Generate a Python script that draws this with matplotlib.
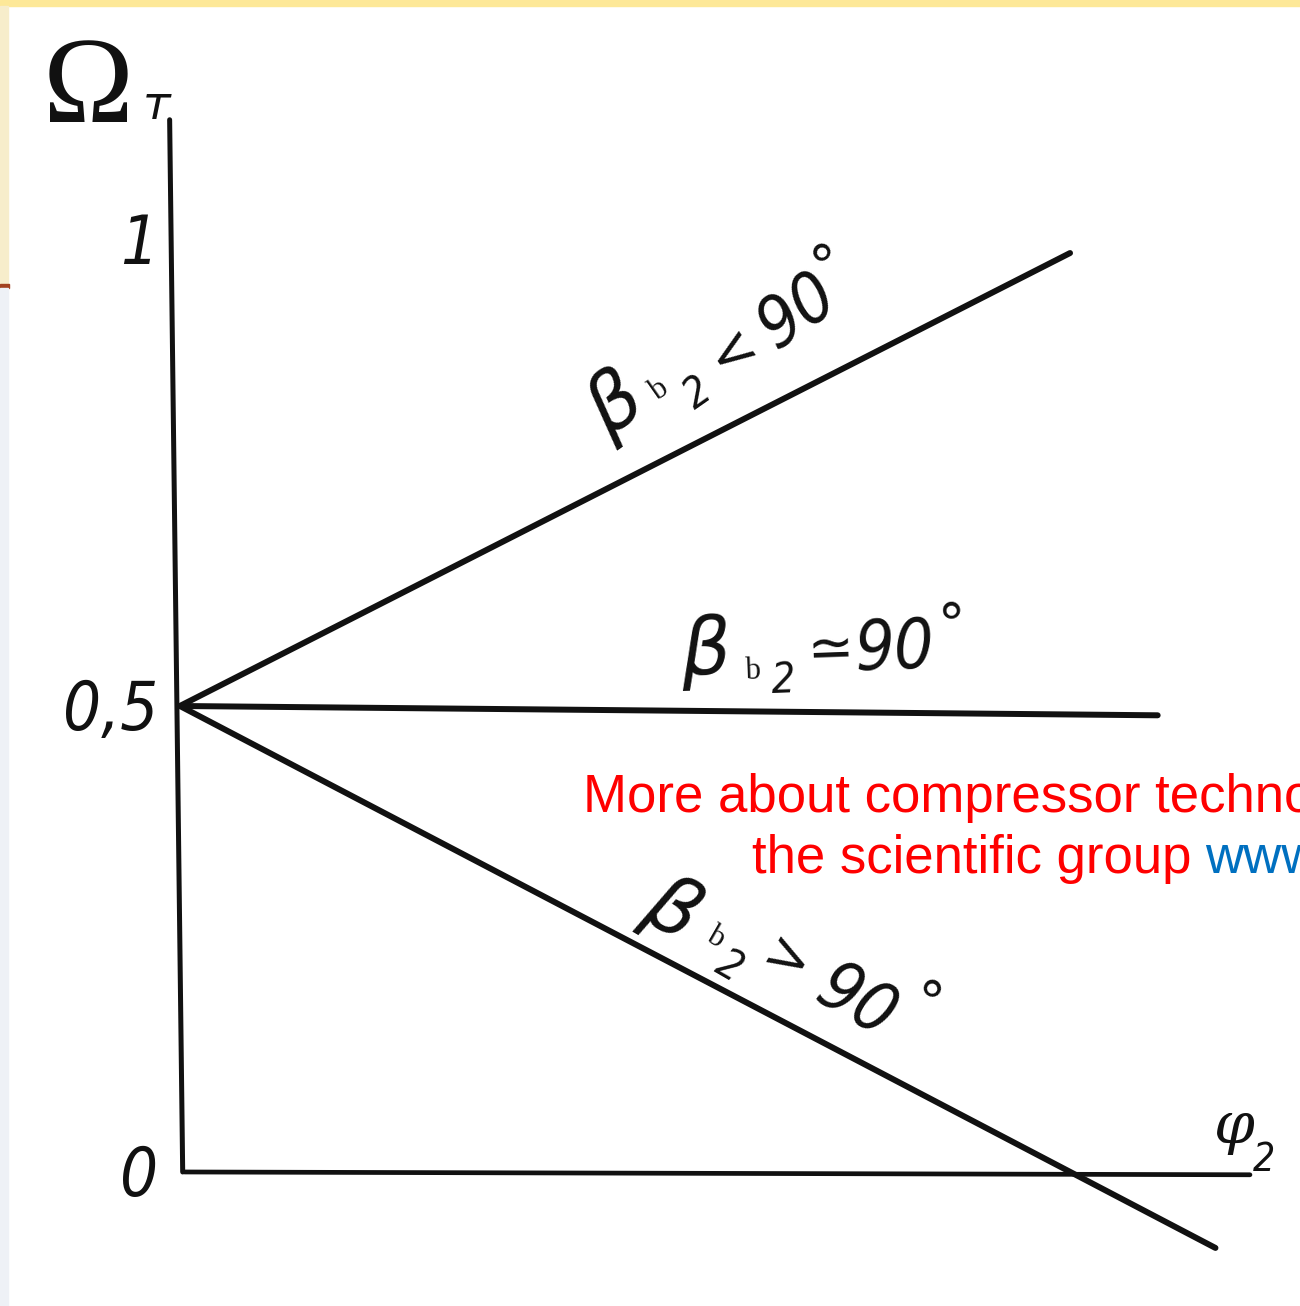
import matplotlib
matplotlib.use("Agg")
import matplotlib.pyplot as plt
from matplotlib.patches import Rectangle

# Axis extents (phi2 horizontal, Omega_T vertical)
axis_v_phi = [-0.011, 0.003]
axis_v_omega = [1.129, 0.0]
axis_h_phi = [0.005, 1.148]
axis_h_omega = [0.0, -0.003]

# All three characteristics start from the same point
start_phi = 0.0
start_omega = 0.5
end_phi = [0.955, 1.049, 1.111]      # beta_b2 < 90, = 90, > 90
end_omega = [0.986, 0.490, -0.0815]

tick_values = [1.0, 0.5, 0.0]
tick_labels = ["1", "0,5", "0"]

INK = "#111111"
DIGITS = dict(family="DejaVu Sans", style="italic", fontstretch="condensed")

fig = plt.figure(figsize=(13, 13.06), dpi=100)
fig.patch.set_facecolor("white")

# slide frame remnants around the scanned drawing
W, H = 1300.0, 1306.0
fig.patches.append(Rectangle((0, 1 - 6 / H), 1, 6 / H, transform=fig.transFigure,
                             color="#FDE898", zorder=0))
fig.patches.append(Rectangle((0, 1 - 284 / H), 8 / W, 278 / H, transform=fig.transFigure,
                             color="#F7EDCB", zorder=0))
fig.patches.append(Rectangle((0, 1 - 288 / H), 9 / W, 4 / H, transform=fig.transFigure,
                             color="#A3411F", zorder=0))
fig.patches.append(Rectangle((0, 0), 8 / W, 1 - 288 / H, transform=fig.transFigure,
                             color="#EEF1F6", zorder=0))

ax = fig.add_axes([0, 0, 1, 1])
ax.set_xlim(-0.193, 1.2017)
ax.set_ylim(-0.1438, 1.2575)
ax.axis("off")
ax.patch.set_alpha(0)

ax.plot(axis_v_phi, axis_v_omega, color=INK, lw=3.6, solid_capstyle="round")
ax.plot(axis_h_phi, axis_h_omega, color=INK, lw=3.4, solid_capstyle="round")

for ph, om in zip(end_phi, end_omega):
    ax.plot([start_phi, ph], [start_omega, om], color=INK, lw=4.3,
            solid_capstyle="round")

for v, lab in zip(tick_values, tick_labels):
    ax.text(-0.023, v - 0.026, lab, ha="right", va="baseline", fontsize=48,
            color=INK, **DIGITS)

# axis names
ax.text(-0.098, 1.158, "Ω", ha="center", va="center", fontsize=88,
        family="Liberation Serif", color=INK)
ax.text(-0.025, 1.143, "т", ha="center", va="center", fontsize=34,
        style="italic", family="DejaVu Sans", color=INK)
ax.text(1.131, 0.048, "φ", ha="center", va="center", fontsize=42,
        style="italic", family="DejaVu Serif", color=INK)
ax.text(1.163, 0.013, "2", ha="center", va="center", fontsize=28,
        color=INK, **DIGITS)


def blade_label(pieces, angle):
    for x, y, s, size, kw in pieces:
        ax.text(x, y, s, ha="center", va="center", rotation=angle,
                rotation_mode="anchor", fontsize=size, color=INK, **kw)


SANS = dict(family="DejaVu Sans")
beta = ("β", 56, dict(family="DejaVu Sans", style="italic"))
sub_b = ("b", 22, dict(family="Liberation Serif"))
sub_2 = ("2", 30, DIGITS)

blade_label([
    (0.467, 0.823) + beta,
    (0.514, 0.838) + sub_b,
    (0.556, 0.836) + sub_2,
    (0.593, 0.880, "<", 40, SANS),
    (0.662, 0.923, "90", 50, DIGITS),
    (0.699, 0.975, "°", 40, SANS),
], 35)

blade_label([
    (0.564, 0.558) + beta,
    (0.614, 0.537) + sub_b,
    (0.647, 0.527) + sub_2,
    (0.698, 0.558, "≃", 40, SANS),
    (0.766, 0.561, "90", 50, DIGITS),
    (0.828, 0.584, "°", 40, SANS),
], 2)

blade_label([
    (0.528, 0.281) + beta,
    (0.575, 0.252) + sub_b,
    (0.589, 0.220) + sub_2,
    (0.650, 0.225, ">", 40, SANS),
    (0.725, 0.182, "90", 50, DIGITS),
    (0.796, 0.178, "°", 40, SANS),
], -30)

# site note over the drawing
fig.text(583 / W, 1 - 812 / H, "More about compressor technology", color="#FF0000",
         fontsize=38, family="Liberation Sans", va="baseline", ha="left")
fig.text(752 / W, 1 - 873 / H, "the scientific group", color="#FF0000",
         fontsize=38, family="Liberation Sans", va="baseline", ha="left")
fig.text(1205 / W, 1 - 873 / H, "www", color="#0070C0",
         fontsize=38, family="Liberation Sans", va="baseline", ha="left")

fig.savefig("out.png", dpi=100)
